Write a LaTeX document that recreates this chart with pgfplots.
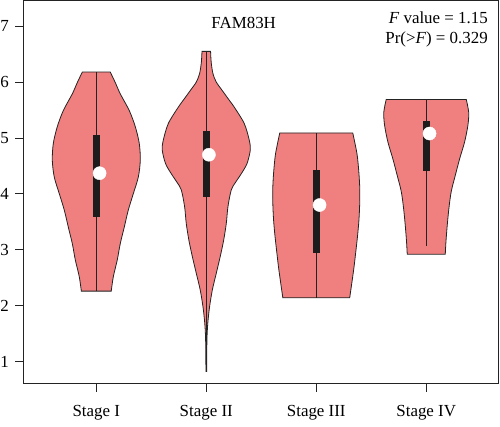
\documentclass[border=0pt]{standalone}
\usepackage{fontspec}
\setmainfont{Liberation Serif}
\usepackage{pgfplots}
\pgfplotsset{compat=1.18}
\usepackage{pgfplotstable}
\usepgfplotslibrary{fillbetween}

\definecolor{vfill}{RGB}{240,127,127}
\definecolor{edge}{RGB}{35,35,35}
\definecolor{boxc}{RGB}{28,28,28}

% violin outlines: value, half width (x units)
\pgfplotstableread{
y hw
6.18 0.127
5.99 0.173
5.79 0.218
5.49 0.300
5.20 0.355
4.90 0.391
4.60 0.400
4.30 0.382
4.00 0.336
3.71 0.291
3.41 0.255
3.11 0.218
2.82 0.191
2.52 0.155
2.26 0.136
}\vone
\pgfplotstableread{
y hw
6.55 0.039
6.35 0.045
6.15 0.061
6.00 0.091
5.85 0.145
5.70 0.200
5.55 0.255
5.26 0.345
4.96 0.391
4.78 0.400
4.54 0.370
4.36 0.318
4.20 0.264
4.07 0.227
3.77 0.197
3.47 0.182
3.17 0.158
2.88 0.127
2.58 0.091
2.28 0.055
1.98 0.030
1.69 0.014
1.39 0.006
0.82 0.003
}\vtwo
\pgfplotstableread{
y hw
5.09 0.332
4.72 0.370
4.42 0.386
4.125 0.395
3.83 0.395
3.53 0.388
3.24 0.375
2.94 0.358
2.64 0.340
2.14 0.304
}\vthree
\pgfplotstableread{
y hw
5.69 0.364
5.46 0.386
5.23 0.379
4.93 0.349
4.63 0.304
4.33 0.264
4.04 0.227
3.74 0.206
3.44 0.191
3.14 0.179
2.92 0.173
}\vfour

\newcommand{\violin}[2]{%
  \addplot[draw=none, smooth, name path=L#1] table[x expr={#1-\thisrow{hw}}, y=y] {#2};
  \addplot[draw=none, smooth, name path=R#1] table[x expr={#1+\thisrow{hw}}, y=y] {#2};
  \addplot[fill=vfill, draw=edge, line width=0.8pt] fill between[of=L#1 and R#1, reverse=true];
}

\begin{document}
\begin{tikzpicture}
\begin{axis}[
    width=476bp, height=384bp, scale only axis,
    xmin=0.336, xmax=4.657, ymin=0.6, ymax=7.46,
    xtick={1,2,3,4},
    xticklabels={Stage I,Stage II,Stage III,Stage IV},
    ytick={1,2,3,4,5,6,7},
    tick align=outside, xtick pos=bottom, ytick pos=left,
    major tick length=8bp,
    axis line style={line width=1pt, draw=edge},
    tick style={line width=0.8pt, draw=edge},
    ticklabel style={font=\fontsize{17}{20}\selectfont},
    xticklabel style={yshift=-10bp},
    yticklabel style={xshift=-3bp},
    /pgf/number format/assume math mode=true,
]
\violin{1}{\vone}
\violin{2}{\vtwo}
\violin{3}{\vthree}
\violin{4}{\vfour}

% whiskers
\addplot[edge, line width=0.8pt] coordinates {(1,2.26) (1,6.18)};
\addplot[edge, line width=0.8pt] coordinates {(2,0.82) (2,6.55)};
\addplot[edge, line width=0.8pt] coordinates {(3,2.14) (3,5.09)};
\addplot[edge, line width=0.8pt] coordinates {(4,3.07) (4,5.69)};

% boxes (IQR)
\addplot[fill=boxc, draw=none] coordinates {(0.968,3.59) (1.032,3.59) (1.032,5.05) (0.968,5.05)} -- cycle;
\addplot[fill=boxc, draw=none] coordinates {(1.968,3.95) (2.032,3.95) (2.032,5.12) (1.968,5.12)} -- cycle;
\addplot[fill=boxc, draw=none] coordinates {(2.968,2.95) (3.032,2.95) (3.032,4.42) (2.968,4.42)} -- cycle;
\addplot[fill=boxc, draw=none] coordinates {(3.968,4.41) (4.032,4.41) (4.032,5.31) (3.968,5.31)} -- cycle;

% medians
\addplot[only marks, mark=*, mark size=6.6pt, color=white]
  coordinates {(1.03,4.37) (2.024,4.70) (3.03,3.80) (4.03,5.08)};

\node[font=\fontsize{17}{20}\selectfont] at (axis cs:2.34,7.05) {FAM83H};
\node[anchor=east, font=\fontsize{17}{20}\selectfont, inner sep=0pt] at (axis cs:4.561,7.16) {\textit{F} value = 1.15};
\node[anchor=east, font=\fontsize{17}{20}\selectfont, inner sep=0pt] at (axis cs:4.561,6.76) {Pr(>\textit{F}) = 0.329};

\coordinate (bl) at (rel axis cs:0,0);
\coordinate (tr) at (rel axis cs:1,1);
\end{axis}
\pgfresetboundingbox
\path[use as bounding box] ([shift={(-23.3bp,-43bp)}]bl) rectangle ([shift={(1.5bp,0.5bp)}]tr);
\end{tikzpicture}
\end{document}
